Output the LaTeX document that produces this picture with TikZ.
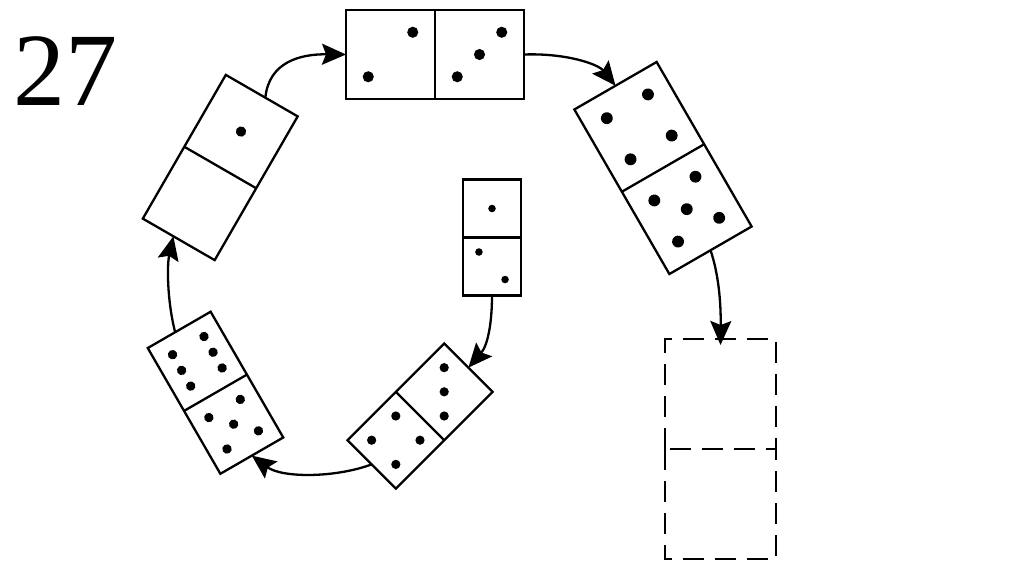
\documentclass[tikz,border=0pt]{standalone}
\usepackage{fontspec}
\setmainfont{Liberation Serif}
\usetikzlibrary{arrows.meta}
\begin{document}
\begin{tikzpicture}[x=1pt,y=-1pt,
  domino/.style={draw, line width=2.3pt, inner sep=0pt, outer sep=0pt, shape=rectangle},
  divider/.style={line width=2.3pt},
  link/.style={line width=2.3pt, -{Stealth[length=24pt,width=21pt,inset=4pt]}},
  ghostbox/.style={inner sep=0pt, outer sep=0pt, shape=rectangle, minimum width=111pt, minimum height=220pt},
  ghostline/.style={line width=2.3pt, dash pattern=on 21pt off 11pt}]
\useasboundingbox (0,0) rectangle (1024,574);

% number
\node[anchor=base west, inner sep=0pt, font=\fontsize{104}{104}\selectfont] (num) at (13,105) {27};

% D1 top (2|3)
\node[domino, minimum width=89pt, minimum height=178pt, rotate=90] (d1) at (435,54.5) {};
\draw[divider] (d1.west) -- (d1.east);
\begin{scope}[shift={(435,54.5)}, rotate=90, scale=44.5]
  \foreach \a/\b in {0.5/-0.5, -0.5/-1.5, 0.5/1.5, 0/1, -0.5/0.5}
    \fill (\a,\b) circle (0.125);
\end{scope}

% D2 right (4|5)
\node[domino, minimum width=95pt, minimum height=190pt, rotate=30] (d2) at (663,168) {};
\draw[divider] (d2.west) -- (d2.east);
\begin{scope}[shift={(663,168)}, rotate=30, scale=47.5]
  \foreach \a/\b in {0.5/-1.5, -0.5/-1.5, 0.5/-0.5, -0.5/-0.5,
                     0.5/0.5, -0.5/0.5, 0/1, 0.5/1.5, -0.5/1.5}
    \fill (\a,\b) circle (0.125);
\end{scope}

% D3 dashed (empty)
\node[ghostbox] (d3) at (720.5,449) {};
\draw[ghostline] (d3.west) -- (d3.north west) -- (d3.north east) -- (d3.east) -- cycle;
\draw[ghostline] (d3.west) -- (d3.south west) -- (d3.south east) -- (d3.east);

% D0 centre (1|2)
\node[domino, minimum width=58pt, minimum height=116pt] (d0) at (492,237.5) {};
\draw[divider] (d0.west) -- (d0.east);
\begin{scope}[shift={(492,237.5)}, scale=29]
  \foreach \a/\b in {0/-1, -0.45/0.5, 0.45/1.45}
    \fill (\a,\b) circle (0.13);
\end{scope}

% D4 bottom (3|4)
\node[domino, minimum width=68.4pt, minimum height=136.8pt, rotate=-45] (d4) at (420,416) {};
\draw[divider] (d4.west) -- (d4.east);
\begin{scope}[shift={(420,416)}, rotate=-45, scale=34.2]
  \foreach \a/\b in {-0.5/-1.5, 0/-1, 0.5/-0.5,
                     0.5/0.5, -0.5/0.5, 0.5/1.5, -0.5/1.5}
    \fill (\a,\b) circle (0.135);
\end{scope}

% D5 bottom left (6|5)
\node[domino, minimum width=72.6pt, minimum height=145.2pt, rotate=30] (d5) at (215.5,392.75) {};
\draw[divider] (d5.west) -- (d5.east);
\begin{scope}[shift={(215.5,392.75)}, rotate=30, scale=36.3]
  \foreach \a/\b in {0.5/-1.5, -0.5/-1.5, 0.5/-1, -0.5/-1, 0.5/-0.5, -0.5/-0.5,
                     0.5/0.5, -0.5/0.5, 0/1, 0.5/1.5, -0.5/1.5}
    \fill (\a,\b) circle (0.13);
  \coordinate (d5out) at (-0.13,-2);
\end{scope}

% D6 top left (1|0)
\node[domino, minimum width=83pt, minimum height=166pt, rotate=-30] (d6) at (220.25,167.5) {};
\draw[divider] (d6.west) -- (d6.east);
\begin{scope}[shift={(220.25,167.5)}, rotate=-30, scale=41.5]
  \fill (0,-1) circle (0.125);
  \coordinate (d6out) at (0.1,-2);
  \coordinate (d6in) at (-0.15,2);
\end{scope}

% connectors
\draw[link] (d6out) .. controls (269,62) and (300,54) .. (d1.north);
\draw[link] (d1.south) .. controls (566,53) and (598,64) .. (d2.north);
\draw[link] (d2.south) .. controls (718,272) and (721,300) .. ([yshift=-6pt]d3.north);
\draw[link] (d0.south) .. controls (492,322) and (488,345) .. (d4.north);
\draw[link] (d4.south) .. controls (335,478) and (282,478) .. (d5.south);
\draw[link] (d5out) .. controls (167,300) and (167,265) .. (d6in);
\end{tikzpicture}
\end{document}
